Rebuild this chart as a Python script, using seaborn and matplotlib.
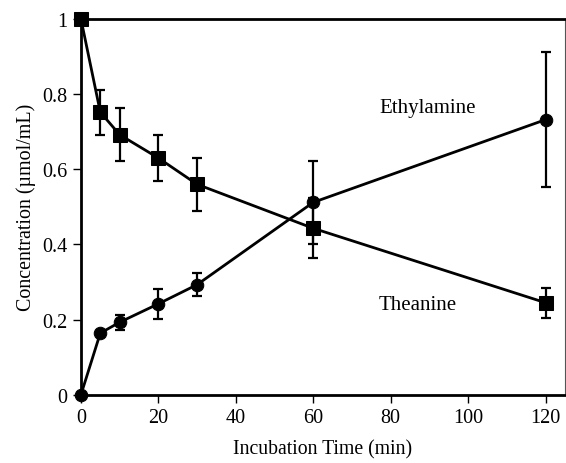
import numpy as np
import pandas as pd
import seaborn as sns
from matplotlib import pyplot as plt

time = [0, 5, 10, 20, 30, 60, 120]
theanine = [1.0, 0.752, 0.692, 0.630, 0.560, 0.443, 0.245]
theanine_err = [0.0, 0.06, 0.07, 0.06, 0.07, 0.08, 0.04]
ethylamine = [0.0, 0.164, 0.193, 0.242, 0.293, 0.512, 0.732]
ethylamine_err = [0.0, 0.0, 0.02, 0.04, 0.03, 0.11, 0.18]

df = pd.DataFrame({"time": time * 2,
                   "conc": theanine + ethylamine,
                   "err": theanine_err + ethylamine_err,
                   "compound": ["Theanine"] * 7 + ["Ethylamine"] * 7})

sns.set_style("ticks")
plt.rcParams['font.family'] = ['Liberation Serif', 'DejaVu Serif']
plt.rcParams['text.color'] = 'black'
plt.rcParams['axes.labelcolor'] = 'black'
plt.rcParams['xtick.color'] = 'black'
plt.rcParams['ytick.color'] = 'black'

fig = plt.figure(figsize=(5.66, 4.64), dpi=100)
ax = fig.add_axes([0.143, 0.147, 0.855, 0.81])

sns.lineplot(data=df, x="time", y="conc", style="compound",
             markers={"Theanine": "s", "Ethylamine": "o"},
             dashes=False, color="black", linewidth=2,
             markersize=10, markeredgecolor="black", legend=False, ax=ax)
ax.lines[1].set_markersize(9)

for name, g in df.groupby("compound"):
    ax.errorbar(g["time"], g["conc"], yerr=g["err"], fmt="none",
                ecolor="black", elinewidth=1.6, capsize=3.5, capthick=1.6)

ax.text(77, 0.752, "Ethylamine", fontsize=15)
ax.text(77, 0.228, "Theanine", fontsize=15)

ax.set_xlim(0, 125)
ax.set_ylim(0, 1)
ax.set_xticks([0, 20, 40, 60, 80, 100, 120])
ax.set_yticks([0, 0.2, 0.4, 0.6, 0.8, 1])
ax.set_yticklabels(["0", "0.2", "0.4", "0.6", "0.8", "1"])
ax.tick_params(labelsize=14.5, length=6, width=1, direction="out")
ax.set_xlabel("Incubation Time (min)", fontsize=14.2, labelpad=9)
ax.set_ylabel("Concentration (µmol/mL)", fontsize=14.4, labelpad=5)

for s in ["left", "bottom", "top"]:
    ax.spines[s].set_linewidth(2)
    ax.spines[s].set_color("black")
ax.spines["right"].set_linewidth(0.8)
ax.spines["right"].set_color("#555555")
for l in ax.lines:
    l.set_clip_on(False)

fig.savefig("out.png", dpi=100)
